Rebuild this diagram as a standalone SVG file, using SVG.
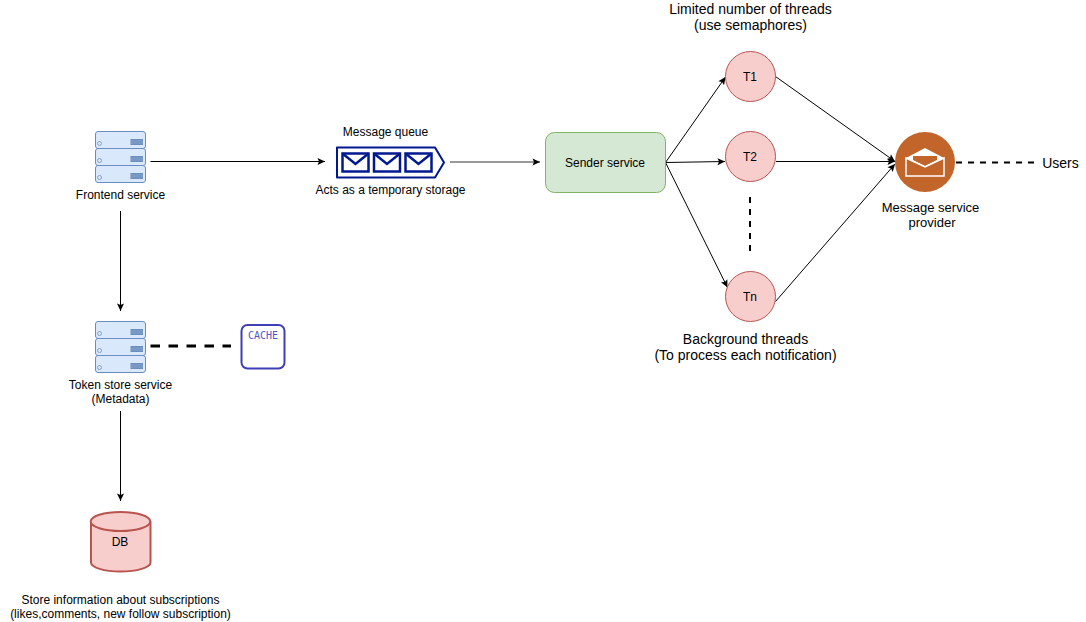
<svg xmlns="http://www.w3.org/2000/svg" width="1086" height="622" viewBox="0 0 1086 622">
<defs>
<marker id="arr" markerUnits="userSpaceOnUse" markerWidth="9" markerHeight="9" refX="8" refY="4.5" orient="auto"><path d="M0.500,1 L8,4.500 L0.500,8 L2,4.500 Z" fill="#000"/></marker>
<g id="rack">
<rect x="0.5" y="0.5" width="50" height="17" rx="2.5" fill="#dae8fc" stroke="#6c8ebf"/>
<circle cx="4.5" cy="12.5" r="2" fill="#dae8fc" stroke="#6c8ebf" stroke-width="0.8"/>
<rect x="35.5" y="8" width="12.500" height="6" fill="#6c8ebf"/>
<path d="M35.500,10H48M35.500,12H48" stroke="#9db5d8" stroke-width="0.500"/>
</g>
<g id="server">
<use href="#rack" y="0"/><use href="#rack" y="17"/><use href="#rack" y="34"/>
</g>
</defs>
<style>
text{font-family:"Liberation Sans",Arial,sans-serif;font-size:12px;fill:#000;text-anchor:middle}
.big{font-size:14px}
.c{fill:none;stroke:#000;stroke-width:1}
.d{fill:none;stroke:#000;stroke-width:2;stroke-dasharray:6 6}
.t{fill:#f8cecc;stroke:#b85450}
</style>
<g id="connectors">
<path class="c" d="M150.500,161.500H325" marker-end="url(#arr)"/>
<path class="c" d="M450,162H540" marker-end="url(#arr)" style="stroke:#333"/>
<path class="c" d="M120.500,211V311" marker-end="url(#arr)"/>
<path class="c" d="M120.500,411V501" marker-end="url(#arr)"/>
<path class="d" d="M150.500,346H231" style="stroke-width:3;stroke-dasharray:9.500 8.500"/>
<path class="c" d="M665.500,162.500L725.500,77" marker-end="url(#arr)"/>
<path class="c" d="M665.500,162.500L725,161.500" marker-end="url(#arr)"/>
<path class="c" d="M665.500,162.500L727.500,287.500" marker-end="url(#arr)"/>
<path class="c" d="M775.500,76.500L895,161.500" marker-end="url(#arr)"/>
<path class="c" d="M776,161.500H895" marker-end="url(#arr)"/>
<path class="c" d="M775.500,301.500L895,164" marker-end="url(#arr)"/>
<path class="d" d="M750,197V252"/>
<path class="d" d="M956,162.500H1035"/>
</g>
<g id="frontend"><use href="#server" x="95" y="131"/><text x="120.500" y="199">Frontend service</text></g>
<g id="token"><use href="#server" x="95" y="321"/><text x="120.500" y="389">Token store service</text><text x="120.500" y="403">(Metadata)</text></g>
<g id="cache"><rect x="241.500" y="325" width="43" height="43.500" rx="6" fill="#fff" stroke="#3f3fb5" stroke-width="2"/><text x="263" y="339" style="font-family:'DejaVu Sans Mono','Liberation Mono',monospace;font-size:10px;fill:#5555c0">CACHE</text></g>
<g id="db"><path d="M91,521.500V562.500C91,567.500 104,571.500 120.500,571.500C137,571.500 150.500,567.500 150.500,562.500V521.500" fill="#f8cecc" stroke="#b85450" stroke-width="2"/><ellipse cx="120.500" cy="521.500" rx="29.800" ry="9.500" fill="#f8cecc" stroke="#b85450" stroke-width="2"/><text x="120" y="546">DB</text></g>
<text x="120.500" y="604">Store information about subscriptions</text><text x="120.500" y="618">(likes,comments, new follow subscription)</text>
<g id="queue">
<text x="385.500" y="136">Message queue</text>
<path d="M337,147.500H435L444,162.500L435,177.500H337Z" fill="#fff" stroke="#00188f" stroke-width="2" stroke-linejoin="round"/>
<g fill="#fff" stroke="#00188f" stroke-width="2.500">
<rect x="342.500" y="153.500" width="26" height="18"/><path d="M342.500,153.500L355.500,164L368.500,153.500" fill="none"/>
<rect x="374" y="153.500" width="26" height="18"/><path d="M374,153.500L387,164L400,153.500" fill="none"/>
<rect x="405.500" y="153.500" width="26" height="18"/><path d="M405.500,153.500L418.500,164L431.500,153.500" fill="none"/>
</g>
<text x="390.500" y="194">Acts as a temporary storage</text>
</g>
<g id="sender"><rect x="545.500" y="132.500" width="120" height="60" rx="9" fill="#d5e8d4" stroke="#82b366"/><text x="605" y="167">Sender service</text></g>
<g id="t1"><circle class="t" cx="750.500" cy="76.500" r="25"/><text x="750" y="81">T1</text></g>
<g id="t2"><circle class="t" cx="750.500" cy="156.500" r="25"/><text x="750" y="161">T2</text></g>
<g id="tn"><circle class="t" cx="750.500" cy="296.500" r="25"/><text x="750" y="301">Tn</text></g>
<text class="big" x="750.500" y="14">Limited number of threads</text><text class="big" x="750.500" y="30">(use semaphores)</text>
<text class="big" x="745.500" y="344">Background threads</text><text class="big" x="745.500" y="360">(To process each notification)</text>
<g id="provider">
<circle cx="925" cy="162" r="30" fill="#c1652b"/>
<path d="M906,158L925,148L944,158L925,167Z" fill="#fff"/>
<path d="M913,156H937V160L925,166L913,160Z" fill="#c1652b"/>
<path d="M906,158V176H944V158L925,167Z" fill="#c1652b" stroke="#fff" stroke-width="1.500"/>
<text x="930.500" y="212" style="font-size:13px">Message service</text><text x="932" y="227" style="font-size:13px">provider</text>
</g>
<text class="big" x="1060.500" y="168">Users</text>
</svg>
